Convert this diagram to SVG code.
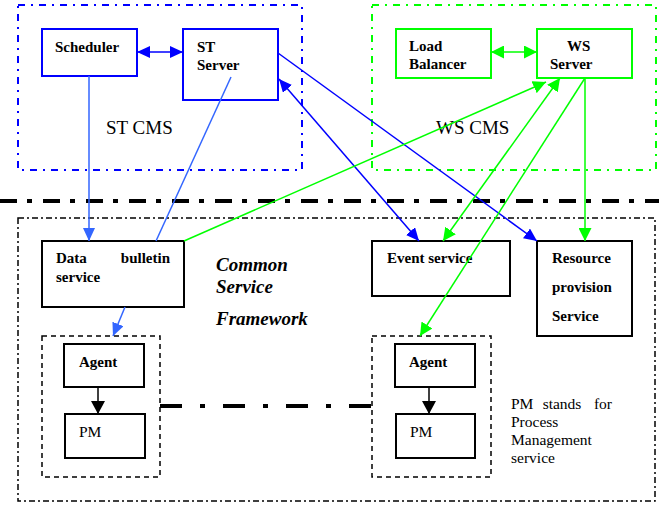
<svg xmlns="http://www.w3.org/2000/svg" width="659" height="506" viewBox="0 0 659 506">
<style>
.bg{fill:#fff}
.box{fill:#fff;stroke-width:2}
.bb{stroke:#0000ff}
.gb{stroke:#00ff00}
.kb{stroke:#000}
.lbl{font-family:"Liberation Serif","Times New Roman",serif;font-size:15px;font-weight:bold;fill:#000}
.reg{font-family:"Liberation Serif","Times New Roman",serif;font-size:15.5px;fill:#000}
.big{font-family:"Liberation Serif","Times New Roman",serif;font-size:19px;fill:#000}
.csf{font-family:"Liberation Serif","Times New Roman",serif;font-size:19px;font-weight:bold;font-style:italic;fill:#000}
.cn{fill:none;stroke-width:1.5}
</style>
<defs>
<marker id="ab" markerUnits="userSpaceOnUse" markerWidth="14" markerHeight="12" refX="13" refY="6" orient="auto-start-reverse"><path d="M0,0 L13,6 L0,12 z" fill="#0000ff"/></marker>
<marker id="alb" markerUnits="userSpaceOnUse" markerWidth="14" markerHeight="12" refX="13" refY="6" orient="auto-start-reverse"><path d="M0,0 L13,6 L0,12 z" fill="#3366ff"/></marker>
<marker id="ag" markerUnits="userSpaceOnUse" markerWidth="14" markerHeight="13" refX="13" refY="6.5" orient="auto-start-reverse"><path d="M0,0 L13,6.5 L0,13 z" fill="#00ff00"/></marker>
<marker id="ak" markerUnits="userSpaceOnUse" markerWidth="14" markerHeight="14" refX="13" refY="7" orient="auto"><path d="M0,0 L13,7 L0,14 z" fill="#000"/></marker>
<clipPath id="fwclip"><rect x="200" y="300" width="130" height="27"/></clipPath>
</defs>
<rect class="bg" x="0" y="0" width="659" height="506"/>

<g id="st-cms">
<rect x="18" y="5" width="284" height="165" fill="none" stroke="#0000ff" stroke-width="2" stroke-dasharray="7 6 2 6"/>
<text class="big" x="106" y="134">ST CMS</text>
</g>
<g id="ws-cms">
<rect x="372" y="5" width="284" height="165" fill="none" stroke="#00ff00" stroke-width="2" stroke-dasharray="7 6 2 6"/>
<text class="big" x="436" y="134">WS CMS</text>
</g>

<g id="separator">
<line x1="0" y1="201" x2="659" y2="201" stroke="#000" stroke-width="4" stroke-dasharray="17 10 5 11"/>
</g>

<g id="common-service-framework">
<rect x="18" y="218" width="637" height="283" fill="none" stroke="#000" stroke-width="1.5" stroke-dasharray="6 3 2 3"/>
<text class="csf" x="216" y="271">Common</text>
<text class="csf" x="216" y="293">Service</text>
<text class="csf" x="216" y="325" clip-path="url(#fwclip)">Framework</text>
</g>

<g id="agent-group-left">
<rect x="42" y="336" width="118" height="141" fill="none" stroke="#000" stroke-width="1.5" stroke-dasharray="5 4"/>
</g>
<g id="agent-group-right">
<rect x="372" y="336" width="119" height="141" fill="none" stroke="#000" stroke-width="1.5" stroke-dasharray="5 4"/>
</g>

<g id="agent-link">
<line x1="160" y1="406" x2="372" y2="406" stroke="#000" stroke-width="4" stroke-dasharray="22 18 5 18"/>
</g>

<g id="scheduler">
<rect class="box bb" x="42" y="29" width="95" height="47"/>
<text class="lbl" x="55" y="52">Scheduler</text>
</g>
<g id="st-server">
<rect class="box bb" x="183" y="29" width="95" height="71"/>
<text class="lbl" x="197" y="52">ST</text>
<text class="lbl" x="197" y="70">Server</text>
</g>
<g id="load-balancer">
<rect class="box gb" x="396" y="29" width="95" height="49"/>
<text class="lbl" x="409" y="51">Load</text>
<text class="lbl" x="409" y="69">Balancer</text>
</g>
<g id="ws-server">
<rect class="box gb" x="537" y="29" width="95" height="49"/>
<text class="lbl" x="567" y="51">WS</text>
<text class="lbl" x="550" y="69">Server</text>
</g>

<g id="data-bulletin">
<rect class="box kb" x="42" y="241" width="142" height="66"/>
<text class="lbl" x="56" y="263">Data</text>
<text class="lbl" x="170" y="263" text-anchor="end">bulletin</text>
<text class="lbl" x="56" y="282">service</text>
</g>
<g id="event-service">
<rect class="box kb" x="372" y="241" width="138" height="55"/>
<text class="lbl" x="387" y="263">Event service</text>
</g>
<g id="resource-provision">
<rect class="box kb" x="537" y="241" width="95" height="95"/>
<text class="lbl" x="552" y="263">Resource</text>
<text class="lbl" x="552" y="292">provision</text>
<text class="lbl" x="552" y="321">Service</text>
</g>

<g id="agent-left">
<rect class="box kb" x="64" y="344" width="80" height="43"/>
<text class="lbl" x="79" y="367">Agent</text>
</g>
<g id="pm-left">
<rect class="box kb" x="65" y="414" width="80" height="44"/>
<text class="reg" x="79" y="437">PM</text>
</g>
<g id="agent-right">
<rect class="box kb" x="395" y="344" width="80" height="43"/>
<text class="lbl" x="409" y="367">Agent</text>
</g>
<g id="pm-right">
<rect class="box kb" x="396" y="414" width="79" height="44"/>
<text class="reg" x="410" y="437">PM</text>
</g>

<g id="note">
<text class="reg" x="511" y="409">PM</text>
<text class="reg" x="562" y="409" text-anchor="middle">stands</text>
<text class="reg" x="612" y="409" text-anchor="end">for</text>
<text class="reg" x="511" y="427">Process</text>
<text class="reg" x="511" y="445">Management</text>
<text class="reg" x="511" y="463">service</text>
</g>

<g id="connectors">
<line class="cn" x1="137" y1="52" x2="183" y2="52" stroke="#0000ff" marker-start="url(#ab)" marker-end="url(#ab)"/>
<line class="cn" x1="491" y1="52" x2="537" y2="52" stroke="#00ff00" marker-start="url(#ag)" marker-end="url(#ag)"/>
<line class="cn" x1="89" y1="76" x2="89" y2="241" stroke="#3366ff" marker-end="url(#alb)"/>
<line class="cn" x1="231" y1="77" x2="156" y2="241" stroke="#3366ff"/>
<line class="cn" x1="125" y1="307" x2="113" y2="336" stroke="#3366ff" marker-end="url(#alb)"/>
<line class="cn" x1="278" y1="53" x2="537" y2="241" stroke="#0000ff" marker-end="url(#ab)"/>
<line class="cn" x1="279" y1="79" x2="419" y2="241" stroke="#0000ff" marker-start="url(#ab)" marker-end="url(#ab)"/>
<line class="cn" x1="184" y1="241" x2="546" y2="82" stroke="#00ff00" marker-end="url(#ag)"/>
<line class="cn" x1="560" y1="78" x2="443" y2="241" stroke="#00ff00" marker-start="url(#ag)" marker-end="url(#ag)"/>
<line class="cn" x1="585" y1="78" x2="420" y2="336" stroke="#00ff00" marker-end="url(#ag)"/>
<line class="cn" x1="585" y1="78" x2="585" y2="241" stroke="#00ff00" marker-end="url(#ag)"/>
<line class="cn" x1="98" y1="387" x2="98" y2="414" stroke="#000" marker-end="url(#ak)"/>
<line class="cn" x1="429" y1="387" x2="429" y2="414" stroke="#000" marker-end="url(#ak)"/>
</g>
</svg>
